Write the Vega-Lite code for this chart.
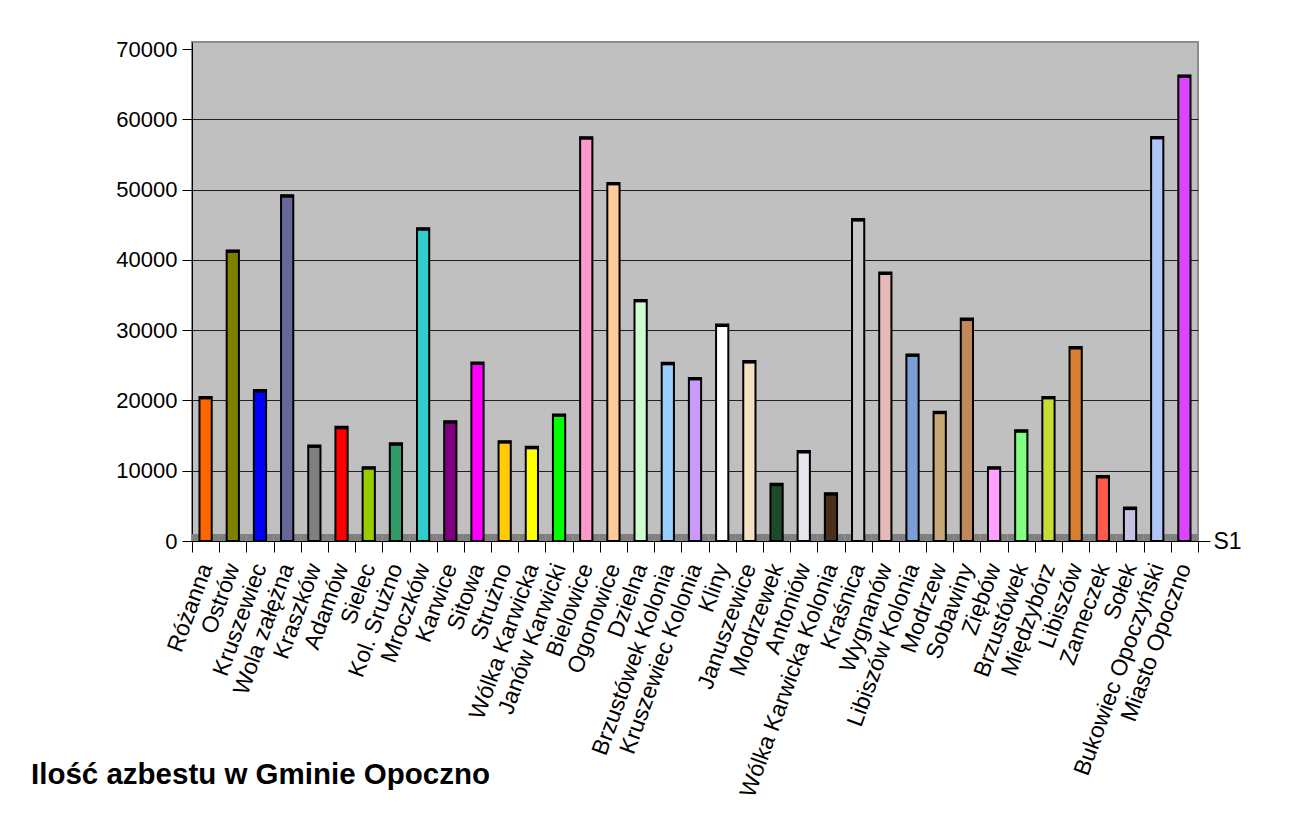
{
  "$schema": "https://vega.github.io/schema/vega-lite/v6.json",
  "width": 1006,
  "height": 499,
  "autosize": "none",
  "padding": {"left": 192, "top": 42, "right": 114, "bottom": 281},
  "background": "white",
  "config": {
    "font": "Liberation Sans",
    "view": {"fill": "#C0C0C0", "stroke": "#8C8C8C", "strokeWidth": 2}
  },
  "title": {
    "text": "Ilość azbestu w Gminie Opoczno",
    "orient": "bottom",
    "anchor": "start",
    "frame": "group",
    "dx": -161,
    "offset": -39,
    "fontSize": 29.5,
    "fontWeight": "bold",
    "font": "Liberation Sans",
    "color": "black"
  },
  "data": {
    "values": [
      {"name": "Różanna", "value": 20500},
      {"name": "Ostrów", "value": 41350},
      {"name": "Kruszewiec", "value": 21500},
      {"name": "Wola załężna", "value": 49200},
      {"name": "Kraszków", "value": 13600},
      {"name": "Adamów", "value": 16250},
      {"name": "Sielec", "value": 10500},
      {"name": "Kol. Srużno", "value": 13900},
      {"name": "Mroczków", "value": 44500},
      {"name": "Karwice", "value": 17050},
      {"name": "Sitowa", "value": 25400},
      {"name": "Strużno", "value": 14200},
      {"name": "Wólka Karwicka", "value": 13400},
      {"name": "Janów Karwicki", "value": 18000},
      {"name": "Bielowice", "value": 57450},
      {"name": "Ogonowice", "value": 50950},
      {"name": "Dzielna", "value": 34300},
      {"name": "Brzustówek Kolonia", "value": 25350},
      {"name": "Kruszewiec Kolonia", "value": 23200},
      {"name": "Kliny", "value": 30800},
      {"name": "Januszewice", "value": 25600},
      {"name": "Modrzewek", "value": 8150},
      {"name": "Antoniów", "value": 12800},
      {"name": "Wólka Karwicka Kolonia", "value": 6800},
      {"name": "Kraśnica", "value": 45800},
      {"name": "Wygnanów", "value": 38200},
      {"name": "Libiszów Kolonia", "value": 26550},
      {"name": "Modrzew", "value": 18400},
      {"name": "Sobawiny", "value": 31650},
      {"name": "Ziębów", "value": 10500},
      {"name": "Brzustówek", "value": 15750},
      {"name": "Międzybórz", "value": 20500},
      {"name": "Libiszów", "value": 27600},
      {"name": "Zameczek", "value": 9250},
      {"name": "Sołek", "value": 4750},
      {"name": "Bukowiec Opoczyński", "value": 57500},
      {"name": "Miasto Opoczno", "value": 66250}
    ]
  },
  "resolve": {"scale": {"y": "independent"}},
  "layer": [
    {
      "mark": {"type": "rect", "color": "#808080"},
      "encoding": {
        "x": {"field": "name", "type": "nominal", "sort": null, "scale": {"paddingInner": 0, "paddingOuter": 0}},
        "y": {
          "datum": 0,
          "type": "quantitative",
          "scale": {"domain": [0, 71000], "nice": false},
          "axis": {
            "orient": "right",
            "values": [0],
            "labelExpr": "'S1'",
            "grid": false,
            "domain": false,
            "tickSize": 12,
            "tickColor": "black",
            "labelFontSize": 23,
            "labelPadding": 3,
            "labelColor": "black",
            "labelBaseline": "middle",
            "title": null
          }
        },
        "y2": {"datum": 1000}
      }
    },
    {
      "mark": {"type": "bar", "width": {"band": 0.45}, "stroke": "black", "strokeWidth": 2},
      "encoding": {
        "x": {
          "field": "name",
          "type": "nominal",
          "sort": null,
          "scale": {"paddingInner": 0, "paddingOuter": 0},
          "axis": {
            "title": null,
            "labelAngle": -70,
            "labelAlign": "right",
            "labelBaseline": "middle",
            "labelFontSize": 23,
            "labelPadding": 12,
            "labelColor": "black",
            "labelLimit": 0,
            "labelOverlap": false,
            "tickBand": "extent",
            "tickSize": 11,
            "tickColor": "black",
            "domainColor": "black",
            "grid": false
          }
        },
        "y": {
          "field": "value",
          "type": "quantitative",
          "scale": {"domain": [0, 71000], "nice": false},
          "axis": {
            "orient": "left",
            "title": null,
            "values": [0, 10000, 20000, 30000, 40000, 50000, 60000, 70000],
            "format": "d",
            "labelFontSize": 22,
            "labelPadding": 5,
            "labelColor": "black",
            "tickSize": 10,
            "tickColor": "black",
            "domainColor": "black",
            "grid": true,
            "gridColor": "#202020",
            "gridOpacity": {"condition": {"test": "datum.value >= 70000 || datum.value == 0", "value": 0}, "value": 1}
          }
        },
        "color": {
          "field": "name",
          "type": "nominal",
          "legend": null,
          "scale": {
            "domain": ["Różanna", "Ostrów", "Kruszewiec", "Wola załężna", "Kraszków", "Adamów", "Sielec", "Kol. Srużno", "Mroczków", "Karwice", "Sitowa", "Strużno", "Wólka Karwicka", "Janów Karwicki", "Bielowice", "Ogonowice", "Dzielna", "Brzustówek Kolonia", "Kruszewiec Kolonia", "Kliny", "Januszewice", "Modrzewek", "Antoniów", "Wólka Karwicka Kolonia", "Kraśnica", "Wygnanów", "Libiszów Kolonia", "Modrzew", "Sobawiny", "Ziębów", "Brzustówek", "Międzybórz", "Libiszów", "Zameczek", "Sołek", "Bukowiec Opoczyński", "Miasto Opoczno"],
            "range": ["#FF6600", "#808000", "#0000FF", "#666699", "#808080", "#FF0000", "#99CC00", "#339966", "#33CCCC", "#800080", "#FF00FF", "#FFCC00", "#FFFF00", "#00FF00", "#FF99CC", "#FFCC99", "#CCFFCC", "#99CCFF", "#CC99FF", "#FFFFFF", "#F3E2C2", "#1F4A2A", "#E6E6EC", "#4A2E1E", "#C8C8C8", "#E6B8B8", "#7A9ED6", "#C8A878", "#C08858", "#FFA0FF", "#80FF80", "#C8DD33", "#D98030", "#FF5A4A", "#C8C0E0", "#B0C4F8", "#DD44FF"]
          }
        }
      }
    },
    {
      "mark": {"type": "tick", "color": "black", "thickness": 3, "size": 13, "yOffset": 1, "opacity": 1},
      "encoding": {
        "x": {"field": "name", "type": "nominal", "sort": null, "scale": {"paddingInner": 0, "paddingOuter": 0}},
        "y": {
          "field": "value",
          "type": "quantitative",
          "scale": {"domain": [0, 71000], "nice": false},
          "axis": null
        }
      }
    }
  ]
}
